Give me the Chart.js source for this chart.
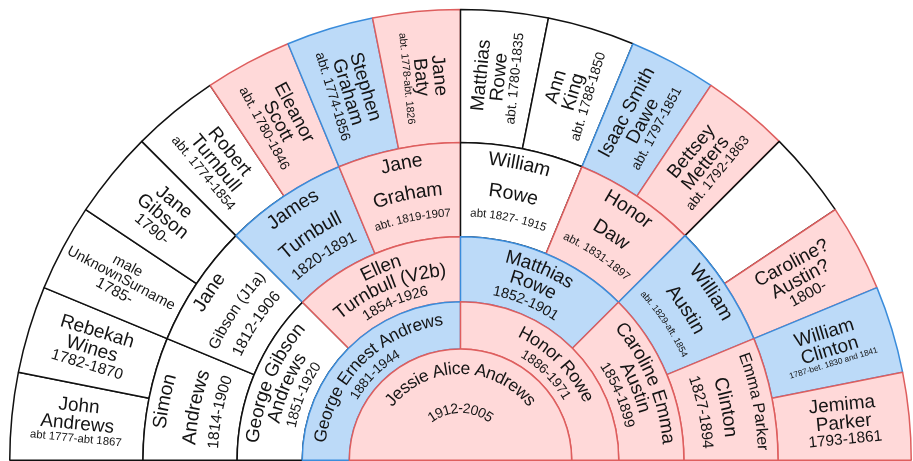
<!DOCTYPE html>
<html><head><meta charset="utf-8">
<script src="https://cdn.jsdelivr.net/npm/chart.js@4.4.1/dist/chart.umd.min.js"></script>
<style>html,body{margin:0;padding:0;background:#fff;overflow:hidden}</style>
</head><body>
<canvas id="c" width="913" height="461"></canvas>
<script>
// ---- DATA (generations from the centre outwards, slices left to right) ----
const gen0Names = ["Jessie Alice Andrews"];
const gen0Dates = ["1912-2005"];
const gen0Kind  = ["F"];
const gen0Share = [1];

const gen1Names = ["George Ernest Andrews", "Honor Rowe"];
const gen1Dates = ["1881-1944", "1886-1971"];
const gen1Kind  = ["M", "F"];
const gen1Share = [1, 1];

const gen2Names = ["George Gibson\nAndrews", "Ellen\nTurnbull (V2b)", "Matthias\nRowe", "Caroline Emma\nAustin"];
const gen2Dates = ["1851-1920", "1854-1926", "1852-1901", "1854-1899"];
const gen2Kind  = ["W", "F", "M", "F"];
const gen2Share = [1, 1, 1, 1];

const gen3Names = ["Simon\nAndrews", "Jane\nGibson (J1a)", "James\nTurnbull", "Jane\nGraham",
                   "William\nRowe", "Honor\nDaw", "William\nAustin", "Emma Parker\nClinton"];
const gen3Dates = ["1814-1900", "1812-1906", "1820-1891", "abt. 1819-1907",
                   "abt 1827- 1915", "abt. 1831-1897", "abt. 1829-aft. 1854", "1827-1894"];
const gen3Kind  = ["W", "W", "M", "F", "W", "F", "M", "F"];
const gen3Share = [1, 1, 1, 1, 1, 1, 1, 1];

const gen4Names = ["John\nAndrews", "Rebekah\nWines", "male\nUnknownSurname", "Jane\nGibson",
                   "Robert\nTurnbull", "Eleanor\nScott", "Stephen\nGraham", "Jane\nBaty",
                   "Matthias\nRowe", "Ann\nKing", "Isaac Smith\nDawe", "Bettsey\nMetters",
                   "", "Caroline?\nAustin?", "William\nClinton", "Jemima\nParker"];
const gen4Dates = ["abt 1777-abt 1867", "1782-1870", "1785-", "1790-",
                   "abt. 1774-1854", "abt. 1780-1846", "abt. 1774-1856", "abt. 1778-abt. 1826",
                   "abt. 1780-1835", "abt. 1788-1850", "abt. 1797-1851", "abt. 1792-1863",
                   "", "1800-", "1787-bet. 1830 and 1841", "1793-1861"];
const gen4Kind  = ["W", "W", "W", "W", "W", "F", "M", "F", "W", "W", "M", "F", "W", "F", "M", "F"];
const gen4Share = [1, 1, 1, 1, 1, 1, 1, 1, 1, 1, 1, 1, 1, 1, 1, 1];

// ---- STYLE ----
const FILL   = { F: "#ffd9d9", M: "#bcdaf8", W: "#ffffff" };
const BORDER = { F: "#de5e5e", M: "#3a8cdb", W: "#111111" };
const FONT = '"Liberation Sans", Arial, sans-serif';
const TEXT_COLOR = "#141414";

const gens = [
  { names: gen4Names, dates: gen4Dates, kind: gen4Kind, share: gen4Share, weight: 133 },
  { names: gen3Names, dates: gen3Dates, kind: gen3Kind, share: gen3Share, weight: 94 },
  { names: gen2Names, dates: gen2Dates, kind: gen2Kind, share: gen2Share, weight: 65 },
  { names: gen1Names, dates: gen1Dates, kind: gen1Kind, share: gen1Share, weight: 47 },
  { names: gen0Names, dates: gen0Dates, kind: gen0Kind, share: gen0Share, weight: 111 }
];
// text layout per dataset index (0 = outermost)
const ringText = [
  { mode: "radial", centerR: 385, nameMax: 19, dateMax: 15.5, nameFit: 120, dateFit: 92 },
  { mode: "arc", nameR: [302, 271], dateR: 247, nameMax: 19.5, dateMax: 15.5 },
  { mode: "arc", nameR: [208, 190], dateR: 172, nameMax: 19, dateMax: 14.5 },
  { mode: "arc", nameR: [141], dateR: 123, nameMax: 18, dateMax: 13.5 },
  { mode: "arc", nameR: [91], dateR: 51, nameMax: 17.5, dateMax: 14 }
];

function fitSize(ctx, text, max, width) {
  ctx.font = "10px " + FONT;
  const w = ctx.measureText(text).width;
  if (!w) return max;
  return Math.min(max, 10 * width / w);
}

function arcText(ctx, cx, cy, r, mid, text, size) {
  ctx.font = size + "px " + FONT;
  const chars = Array.from(text);
  const widths = chars.map(ch => ctx.measureText(ch).width);
  const total = widths.reduce((a, b) => a + b, 0);
  let s = -total / 2;
  chars.forEach((ch, i) => {
    const a = mid + (s + widths[i] / 2) / r;
    ctx.save();
    ctx.translate(cx + r * Math.cos(a), cy + r * Math.sin(a));
    ctx.rotate(a + Math.PI / 2);
    ctx.fillText(ch, 0, 0);
    ctx.restore();
    s += widths[i];
  });
}

const labelPlugin = {
  id: "fanLabels",
  afterDatasetsDraw(chart) {
    const ctx = chart.ctx;
    ctx.save();
    ctx.fillStyle = TEXT_COLOR;
    ctx.textAlign = "center";
    ctx.textBaseline = "middle";
    gens.forEach((g, di) => {
      const cfg = ringText[di];
      const meta = chart.getDatasetMeta(di);
      meta.data.forEach((el, i) => {
        const nameLines = g.names[i] ? g.names[i].split("\n") : [];
        const date = g.dates[i];
        if (!nameLines.length && !date) return;
        const cx = el.x, cy = el.y;
        const mid = (el.startAngle + el.endAngle) / 2;
        const span = el.endAngle - el.startAngle;
        if (cfg.mode === "arc") {
          nameLines.forEach((ln, k) => {
            const r = cfg.nameR[k];
            const sz = fitSize(ctx, ln, cfg.nameMax, 0.84 * r * span);
            arcText(ctx, cx, cy, r, mid, ln, sz);
          });
          if (date) {
            const r = cfg.dateR;
            const sz = fitSize(ctx, date, cfg.dateMax, 0.8 * r * span);
            arcText(ctx, cx, cy, r, mid, date, sz);
          }
        } else {
          const nameSize = Math.min(...nameLines.map(t => fitSize(ctx, t, cfg.nameMax, cfg.nameFit)));
          const lines = nameLines.map(t => ({ t, s: nameSize }));
          if (date) lines.push({ t: date, s: fitSize(ctx, date, cfg.dateMax, cfg.dateFit) });
          const offs = [0];
          for (let k = 1; k < lines.length; k++) offs.push(offs[k - 1] + (lines[k - 1].s + lines[k].s) / 2 * 0.96);
          const shift = offs[offs.length - 1] / 2;
          const left = mid < -Math.PI / 2;
          const rot = left ? mid + Math.PI : mid;
          ctx.save();
          ctx.translate(cx + cfg.centerR * Math.cos(mid), cy + cfg.centerR * Math.sin(mid));
          ctx.rotate(rot);
          lines.forEach((ln, k) => {
            ctx.font = ln.s + "px " + FONT;
            ctx.fillText(ln.t, 0, offs[k] - shift);
          });
          ctx.restore();
        }
      });
    });
    ctx.restore();
  }
};

const datasets = gens.map((g, di) => ({
  data: g.share,
  weight: g.weight,
  order: gens.length - 1 - di,
  backgroundColor: g.kind.map(k => FILL[k]),
  borderColor: g.kind.map(k => BORDER[k]),
  borderWidth: 1.5,
  hoverBorderWidth: 1.5,
  hoverOffset: 0
}));

new Chart(document.getElementById("c"), {
  type: "doughnut",
  data: { labels: gen4Names, datasets },
  options: {
    responsive: false,
    animation: false,
    events: [],
    rotation: -90,
    circumference: 180,
    cutout: 0,
    layout: { padding: { left: 9, right: 1, top: 8.5, bottom: -3 } },
    plugins: { legend: { display: false }, tooltip: { enabled: false } }
  },
  plugins: [labelPlugin]
});
</script>
</body></html>
